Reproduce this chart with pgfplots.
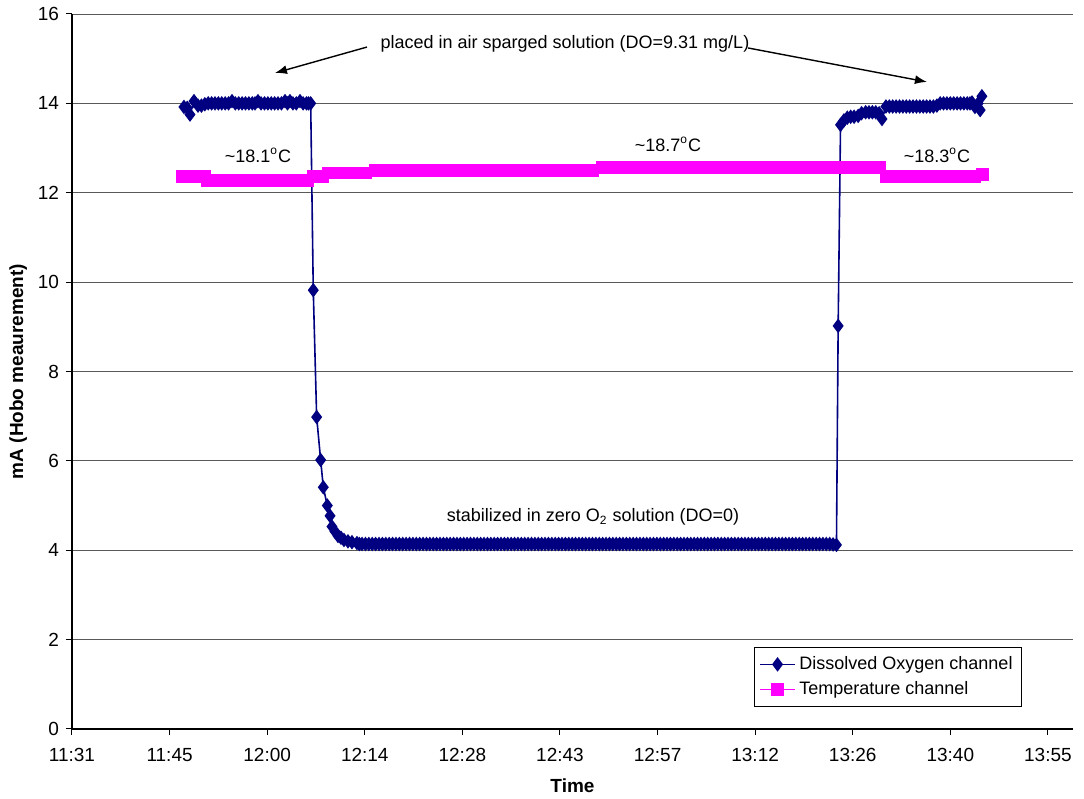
\documentclass[border=0pt]{standalone}
\usepackage{fontspec}
\setmainfont{Liberation Sans}
\usepackage{pgfplots}
\pgfplotsset{compat=1.18}
\usetikzlibrary{arrows.meta}
\definecolor{doblue}{RGB}{0,0,128}
\definecolor{tmag}{RGB}{255,0,255}
\begin{document}
\begin{tikzpicture}
\useasboundingbox (-36pt,-35pt) rectangle (506pt,364.5pt);
\begin{axis}[
  at={(0,0)}, anchor=south west,
  scale only axis, width=500.5pt, height=357.5pt,
  xmin=691.2, xmax=838.9, ymin=0, ymax=16,
  axis x line*=bottom, axis y line*=left,
  axis line style={black, line width=0.6pt},
  xtick={691.2,705.6,720,734.4,748.8,763.2,777.6,792,806.4,820.8,835.2},
  xticklabels={11:31,11:45,12:00,12:14,12:28,12:43,12:57,13:12,13:26,13:40,13:55},
  ytick={0,2,4,6,8,10,12,14,16},
  tick align=outside, major tick length=3pt,
  tick style={black, line width=0.5pt},
  ymajorgrids, major grid style={black!65, line width=0.45pt},
  /pgf/number format/assume math mode=true,
  ticklabel style={font=\fontsize{9.5}{11}\selectfont},
  xticklabel style={yshift=-3pt},
  xlabel={\textbf{Time}}, ylabel={\textbf{mA (Hobo meaurement)}},
  label style={font=\fontsize{9.5}{11}\selectfont},
  xlabel style={yshift=-1.5pt},
  ylabel style={yshift=-1.5pt},
  clip=false,
  legend style={at={(0.949,0.031)}, anchor=south east, draw=black, line width=0.4pt,
    font=\fontsize{9}{11}\selectfont, cells={anchor=west}, inner sep=2.5pt, row sep=0.5pt},
]
\addplot[color=doblue, line width=0.8pt, mark=diamond*, mark size=3pt, mark options={solid}] coordinates {
(707.72,13.92)(708.2,13.90)(708.61,13.75)(709.2,14.05)(709.79,13.95)(710.3,13.95)(710.8,13.98)(711.3,14.0)(711.8,14.0)(712.3,14.0)(712.8,14.0)(713.3,14.0)(713.8,14.0)(714.3,14.0)(714.81,14.05)(715.3,14.0)(715.8,14.0)(716.3,14.0)(716.8,14.0)(717.3,14.0)(717.8,14.0)(718.2,14.0)(718.64,14.05)(719.1,14.0)(719.6,14.0)(720.1,14.0)(720.6,14.0)(721.1,14.0)(721.6,14.0)(722.1,14.0)(722.63,14.05)(723.0,14.0)(723.36,14.05)(723.8,14.0)(724.3,14.0)(724.84,14.05)(725.3,14.0)(725.8,14.0)(726.1,14.0)(726.42,14.0)
(726.80,9.82)(727.30,6.98)(727.89,6.02)(728.28,5.41)(728.87,5.0)(729.27,4.77)(729.56,4.53)(730.0,4.42)(730.45,4.32)(730.89,4.28)(731.33,4.23)(731.92,4.2)(732.51,4.18)(733.25,4.16)
(733.6,4.14)(734,4.14)(734.5,4.14)(735,4.14)(735.5,4.14)(736,4.14)(736.5,4.14)(737,4.14)(737.5,4.14)(738,4.14)(738.5,4.14)(739,4.14)(739.5,4.14)(740,4.14)(740.5,4.14)(741,4.14)(741.5,4.14)(742,4.14)(742.5,4.14)(743,4.14)(743.5,4.14)(744,4.14)(744.5,4.14)(745,4.14)(745.5,4.14)(746,4.14)(746.5,4.14)(747,4.14)(747.5,4.14)(748,4.14)(748.5,4.14)(749,4.14)(749.5,4.14)(750,4.14)(750.5,4.14)(751,4.14)(751.5,4.14)(752,4.14)(752.5,4.14)(753,4.14)(753.5,4.14)(754,4.14)(754.5,4.14)(755,4.14)(755.5,4.14)(756,4.14)(756.5,4.14)(757,4.14)(757.5,4.14)(758,4.14)(758.5,4.14)(759,4.14)(759.5,4.14)(760,4.14)(760.5,4.14)(761,4.14)(761.5,4.14)(762,4.14)(762.5,4.14)(763,4.14)(763.5,4.14)(764,4.14)(764.5,4.14)(765,4.14)(765.5,4.14)(766,4.14)(766.5,4.14)(767,4.14)(767.5,4.14)(768,4.14)(768.5,4.14)(769,4.14)(769.5,4.14)(770,4.14)(770.5,4.14)(771,4.14)(771.5,4.14)(772,4.14)(772.5,4.14)(773,4.14)(773.5,4.14)(774,4.14)(774.5,4.14)(775,4.14)(775.5,4.14)(776,4.14)(776.5,4.14)(777,4.14)(777.5,4.14)(778,4.14)(778.5,4.14)(779,4.14)(779.5,4.14)(780,4.14)(780.5,4.14)(781,4.14)(781.5,4.14)(782,4.14)(782.5,4.14)(783,4.14)(783.5,4.14)(784,4.14)(784.5,4.14)(785,4.14)(785.5,4.14)(786,4.14)(786.5,4.14)(787,4.14)(787.5,4.14)(788,4.14)(788.5,4.14)(789,4.14)(789.5,4.14)(790,4.14)(790.5,4.14)(791,4.14)(791.5,4.14)(792,4.14)(792.5,4.14)(793,4.14)(793.5,4.14)(794,4.14)(794.5,4.14)(795,4.14)(795.5,4.14)(796,4.14)(796.5,4.14)(797,4.14)(797.5,4.14)(798,4.14)(798.5,4.14)(799,4.14)(799.5,4.14)(800,4.14)(800.5,4.14)(801,4.14)(801.5,4.14)(802,4.14)(802.5,4.14)(803,4.14)
(803.5,4.13)(804.0,4.12)(804.25,9.02)(804.6,13.52)(805.1,13.62)(805.6,13.68)(806.1,13.7)(806.6,13.7)(807.2,13.72)(807.7,13.78)(808.3,13.8)(808.8,13.8)(809.3,13.8)(809.8,13.8)(810.3,13.78)(810.71,13.65)(811.3,13.93)(811.8,13.93)(812.3,13.93)(812.8,13.93)(813.3,13.93)(813.8,13.93)(814.3,13.93)(814.8,13.93)(815.3,13.93)(815.8,13.93)(816.3,13.93)(816.8,13.93)(817.3,13.93)(817.8,13.93)(818.3,13.93)(818.82,13.95)(819.3,14.0)(819.8,14.0)(820.3,14.0)(820.8,14.0)(821.3,14.0)(821.8,14.0)(822.3,14.0)(822.8,14.0)(823.3,14.0)(823.7,14.0)(824.0,14.02)(824.43,13.92)(824.9,14.0)(825.2,13.85)(825.46,14.16)
};
\addlegendentry{Dissolved Oxygen channel}
\addplot[color=tmag, line width=0.8pt, mark=square*, mark size=2.8pt, mark options={solid}] coordinates {
(707.43,12.37)(708.1,12.37)(708.8,12.37)(709.5,12.37)(710.2,12.37)(710.7,12.37)
(711.2,12.28)(711.9,12.28)(712.6,12.28)(713.3,12.28)(714.0,12.28)(714.7,12.28)(715.4,12.28)(716.1,12.28)(716.8,12.28)(717.5,12.28)(718.2,12.28)(718.9,12.28)(719.6,12.28)(720.3,12.28)(721.0,12.28)(721.7,12.28)(722.4,12.28)(723.1,12.28)(723.8,12.28)(724.5,12.28)(725.2,12.28)(725.9,12.28)
(726.8,12.37)(727.5,12.37)(728.2,12.37)
(729.0,12.44)(729.7,12.44)(730.4,12.44)(731.1,12.44)(731.8,12.44)(732.5,12.44)(733.2,12.44)(733.9,12.44)(734.5,12.44)
(736,12.5)(737,12.5)(738,12.5)(739,12.5)(740,12.5)(741,12.5)(742,12.5)(743,12.5)(744,12.5)(745,12.5)(746,12.5)(747,12.5)(748,12.5)(749,12.5)(750,12.5)(751,12.5)(752,12.5)(753,12.5)(754,12.5)(755,12.5)(756,12.5)(757,12.5)(758,12.5)(759,12.5)(760,12.5)(761,12.5)(762,12.5)(763,12.5)(764,12.5)(765,12.5)(766,12.5)(767,12.5)(768,12.5)
(769.4,12.56)(770.4,12.56)(771.4,12.56)(772.4,12.56)(773.4,12.56)(774.4,12.56)(775.4,12.56)(776.4,12.56)(777.4,12.56)(778.4,12.56)(779.4,12.56)(780.4,12.56)(781.4,12.56)(782.4,12.56)(783.4,12.56)(784.4,12.56)(785.4,12.56)(786.4,12.56)(787.4,12.56)(788.4,12.56)(789.4,12.56)(790.4,12.56)(791.4,12.56)(792.4,12.56)(793.4,12.56)(794.4,12.56)(795.4,12.56)(796.4,12.56)(797.4,12.56)(798.4,12.56)(799.4,12.56)(800.4,12.56)(801.4,12.56)(802.4,12.56)(803.4,12.56)(804.4,12.56)(805.4,12.56)(806.4,12.56)(807.4,12.56)(808.4,12.56)(809.4,12.56)(810.4,12.56)
(811.4,12.37)(812.4,12.37)(813.4,12.37)(814.4,12.37)(815.4,12.37)(816.4,12.37)(817.4,12.37)(818.4,12.37)(819.4,12.37)(820.4,12.37)(821.4,12.37)(822.4,12.37)(823.4,12.37)(824.4,12.37)(825.5,12.41)
};
\addlegendentry{Temperature channel}
\node[font=\fontsize{9}{11}\selectfont] at (axis cs:763.94,15.33) {placed in air sparged solution (DO=9.31 mg/L)};
\draw[black, line width=0.7pt, -{Latex[length=6pt,width=4.5pt]}] (axis cs:734.72,15.26) -- (axis cs:721.15,14.68);
\draw[black, line width=0.7pt, -{Latex[length=6pt,width=4.5pt]}] (axis cs:790.94,15.24) -- (axis cs:817.35,14.48);
\node[font=\fontsize{9}{11}\selectfont] at (axis cs:718.64,12.84) {\textasciitilde18.1\textsuperscript{o}C};
\node[font=\fontsize{9}{11}\selectfont] at (axis cs:779.13,13.09) {\textasciitilde18.7\textsuperscript{o}C};
\node[font=\fontsize{9}{11}\selectfont] at (axis cs:818.82,12.84) {\textasciitilde18.3\textsuperscript{o}C};
\node[font=\fontsize{9}{11}\selectfont] at (axis cs:768.07,4.74) {stabilized in zero O\textsubscript{2} solution (DO=0)};
\end{axis}
\end{tikzpicture}
\end{document}
